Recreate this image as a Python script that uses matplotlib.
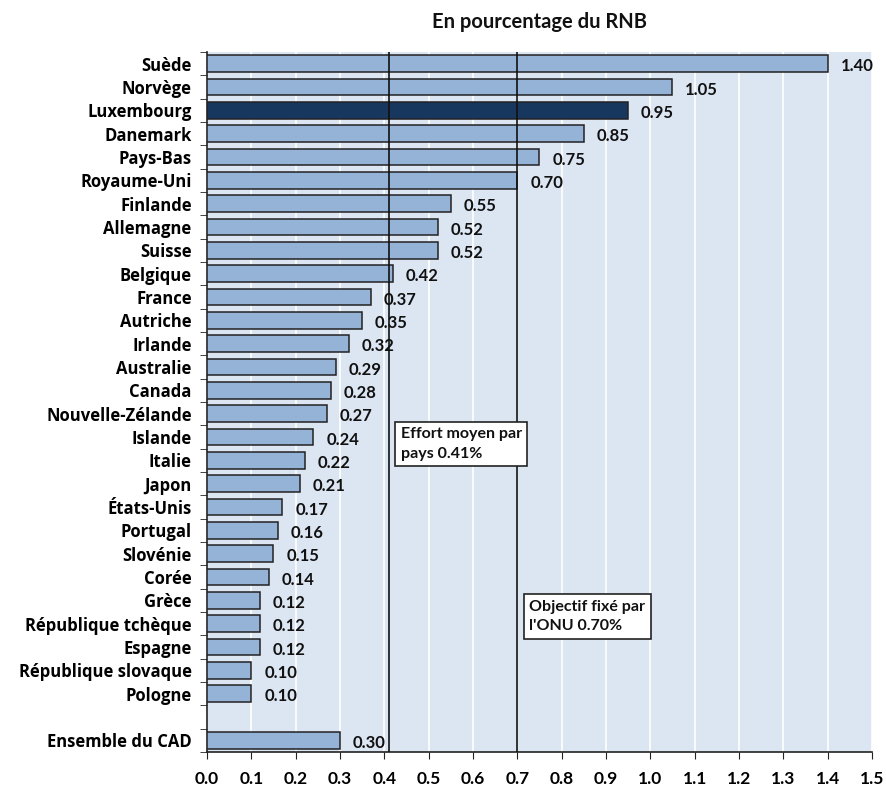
import matplotlib
matplotlib.use("Agg")
import matplotlib.pyplot as plt
from matplotlib.ticker import FixedLocator, MultipleLocator

plt.rcParams['font.family'] = ['Lato', 'DejaVu Sans']
plt.rcParams['font.weight'] = 'bold'

countries = ["Suède", "Norvège", "Luxembourg", "Danemark", "Pays-Bas", "Royaume-Uni",
             "Finlande", "Allemagne", "Suisse", "Belgique", "France", "Autriche",
             "Irlande", "Australie", "Canada", "Nouvelle-Zélande", "Islande", "Italie",
             "Japon", "États-Unis", "Portugal", "Slovénie", "Corée", "Grèce",
             "République tchèque", "Espagne", "République slovaque", "Pologne"]
values = [1.40, 1.05, 0.95, 0.85, 0.75, 0.70, 0.55, 0.52, 0.52, 0.42, 0.37, 0.35,
          0.32, 0.29, 0.28, 0.27, 0.24, 0.22, 0.21, 0.17, 0.16, 0.15, 0.14, 0.12,
          0.12, 0.12, 0.10, 0.10]
total_label = "Ensemble du CAD"
total_value = 0.30
mean_effort = 0.41
un_target = 0.70
highlight = "Luxembourg"

light = "#95b3d7"
dark = "#17375e"

labels = countries + [total_label]
vals = values + [total_value]
# one empty slot between the countries and the DAC total
positions = list(range(len(countries))) + [len(countries) + 1]
colors = [dark if c == highlight else light for c in countries] + [light]

fig = plt.figure(figsize=(8.87, 7.89), dpi=100)
ax = fig.add_axes([207 / 887, 1 - 752 / 789, 665 / 887, 700 / 789])
ax.set_facecolor("#dce6f2")

ax.barh(positions, vals, height=0.72, color=colors, edgecolor="#222222",
        linewidth=1.1, zorder=3)

for p, v in zip(positions, vals):
    ax.text(v + 0.029, p + 0.12, f"{v:.2f}", va="center", ha="left",
            fontsize=12, fontweight="bold", color="#111111", zorder=4)

ax.axvline(mean_effort, color="#111111", linewidth=1.2, zorder=5)
ax.axvline(un_target, color="#111111", linewidth=1.2, zorder=5)

box = dict(boxstyle="square,pad=0.35", facecolor="white", edgecolor="#222222", linewidth=1.2)
ax.text(0.437, 16.3, "Effort moyen par\npays 0.41%", ha="left", va="center",
        fontsize=11.5, fontweight="bold", color="#111111", bbox=box, zorder=6,
        linespacing=1.5)
ax.text(0.727, 23.7, "Objectif fixé par\nl'ONU 0.70%", ha="left", va="center",
        fontsize=11.5, fontweight="bold", color="#111111", bbox=box, zorder=6,
        linespacing=1.5)

ax.set_xlim(0, 1.5)
ax.set_ylim(len(countries) + 1.5, -0.5)
ax.xaxis.set_major_locator(MultipleLocator(0.1))
ax.set_xticklabels([f"{x:.1f}" for x in ax.get_xticks()])
ax.grid(axis="x", color="white", linewidth=1.2, zorder=1)
ax.set_axisbelow(True)

ax.set_yticks(positions)
ax.set_yticklabels(labels, family=['Open Sans', 'DejaVu Sans'])
ax.tick_params(axis="y", length=0, pad=11, labelsize=12)
ax.yaxis.set_minor_locator(FixedLocator([p - 0.5 for p in range(len(countries) + 3)]))
ax.tick_params(axis="y", which="minor", length=5, direction="out", color="#222222")
ax.tick_params(axis="x", length=5, direction="out", pad=9, labelsize=12.5, color="#222222")

for s in ["top", "right"]:
    ax.spines[s].set_visible(False)
for s in ["left", "bottom"]:
    ax.spines[s].set_color("#222222")
    ax.spines[s].set_linewidth(1.2)

fig.text(539.5 / 887, 1 - 22 / 789, "En pourcentage du RNB", ha="center", va="center",
         fontsize=14.5, fontweight="bold", color="#111111")

fig.savefig("out.png", dpi=100, facecolor="white")
